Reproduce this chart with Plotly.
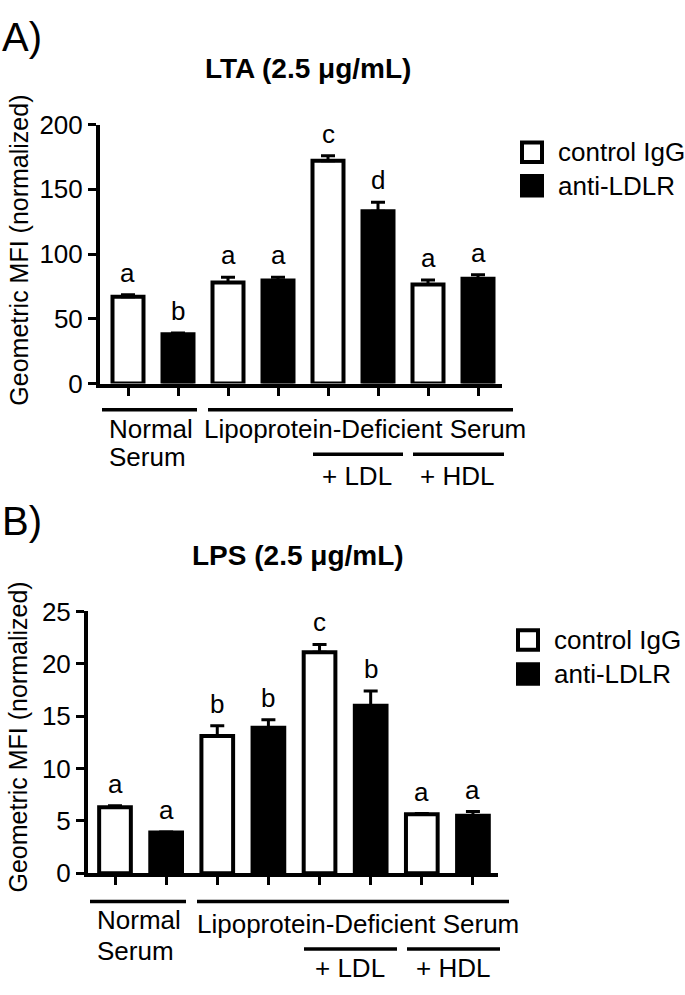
import plotly.graph_objects as go

W, H = 685, 995

# ---------------- data ----------------
groups = ["Normal Serum", "Lipoprotein-Deficient Serum", "+ LDL", "+ HDL"]
series_names = ["control IgG", "anti-LDLR"]

lta_control = [67, 78, 172, 76.5]
lta_control_err = [1.5, 4, 4, 3.5]
lta_anti = [38, 79.5, 133, 81]
lta_anti_err = [1, 2.5, 7, 3]
lta_control_letters = ["a", "a", "c", "a"]
lta_anti_letters = ["b", "a", "d", "a"]

lps_control = [6.3, 13.1, 21.1, 5.65]
lps_control_err = [0.15, 1.0, 0.75, 0.05]
lps_anti = [3.9, 13.9, 16.0, 5.5]
lps_anti_err = [0.05, 0.75, 1.4, 0.4]
lps_control_letters = ["a", "b", "c", "a"]
lps_anti_letters = ["a", "b", "b", "a"]

lta_ticks = [0, 50, 100, 150, 200]
lps_ticks = [0, 5, 10, 15, 20, 25]

FONT = "Liberation Sans, Arial, Helvetica, sans-serif"
FS = 26


def px(x):
    return x / W


def py(y):
    return 1 - y / H


fig = go.Figure()
annotations = []
shapes = []

panels = [
    dict(ax="", title="<b>LTA (2.5 μg/mL)</b>", label="A)",
         ctrl=lta_control, ctrl_err=lta_control_err, anti=lta_anti, anti_err=lta_anti_err,
         ctrl_let=lta_control_letters, anti_let=lta_anti_letters, ticks=lta_ticks,
         xdom=(100, 502), xrange=(-0.56, 7.48), ydom=(380, 113),
         title_xy=(308, 55), label_xy=(22, 23), ytitle_xy=(19, 243),
         legend_y=(141.5, 176), legend_x=520,
         line1=(102, 197, 407), line2=(208, 513, 407), ldl=(313, 403, 453), hdl=(413, 504, 453),
         normal_xy=(109, 427, 456), lpds_xy=(365, 427), ldl_xy=(357, 475), hdl_xy=(457, 475)),
    dict(ax="2", title="<b>LPS (2.5 μg/mL)</b>", label="B)",
         ctrl=lps_control, ctrl_err=lps_control_err, anti=lps_anti, anti_err=lps_anti_err,
         ctrl_let=lps_control_letters, anti_let=lps_anti_letters, ticks=lps_ticks,
         xdom=(88, 498), xrange=(-0.528, 7.49), ydom=(885, 615),
         title_xy=(298, 557), label_xy=(22, 522), ytitle_xy=(18, 745),
         legend_y=(644.5, 679.5), legend_x=516,
         line1=(90, 186, 914), line2=(197, 509, 914), ldl=(304, 397, 963), hdl=(407, 500, 963),
         normal_xy=(97, 933, 965), lpds_xy=(358, 937), ldl_xy=(350, 983), hdl_xy=(453, 983)),
]

for p in panels:
    xa = "x" + p["ax"]
    ya = "y" + p["ax"]
    n = len(groups)
    xs_ctrl = [2 * i for i in range(n)]
    xs_anti = [2 * i + 1 for i in range(n)]
    for xs, vals, errs, fill, name in [
        (xs_ctrl, p["ctrl"], p["ctrl_err"], "white", series_names[0]),
        (xs_anti, p["anti"], p["anti_err"], "black", series_names[1]),
    ]:
        fig.add_trace(go.Bar(
            x=xs, y=vals, width=0.62, name=name, showlegend=False,
            marker=dict(color=fill, line=dict(color="black", width=4)),
            error_y=dict(type="data", symmetric=False, array=errs, arrayminus=[0] * n,
                         color="black", thickness=3, width=7),
            xaxis=xa, yaxis=ya,
        ))
    # significance letters
    for xs, vals, errs, lets in [
        (xs_ctrl, p["ctrl"], p["ctrl_err"], p["ctrl_let"]),
        (xs_anti, p["anti"], p["anti_err"], p["anti_let"]),
    ]:
        for x, v, e, t in zip(xs, vals, errs, lets):
            annotations.append(dict(x=x, y=v + e, xref=xa, yref=ya, text=t, showarrow=False,
                                    xanchor="center", yanchor="middle", yshift=22,
                                    font=dict(size=FS, color="black", family=FONT)))
    # axes
    axis_common = dict(showline=True, linewidth=4, linecolor="black", ticks="outside",
                       ticklen=8, tickwidth=3, tickcolor="black", showgrid=False,
                       zeroline=False, fixedrange=True)
    fig.update_layout(**{
        "xaxis" + p["ax"]: dict(domain=[px(p["xdom"][0]), px(p["xdom"][1])], range=list(p["xrange"]),
                                tickvals=list(range(2 * n)), showticklabels=False, anchor=ya, **axis_common),
        "yaxis" + p["ax"]: dict(domain=[py(p["ydom"][0]), py(p["ydom"][1])],
                                range=[p["ticks"][0], p["ticks"][-1]], tickvals=p["ticks"],
                                tickfont=dict(size=FS, color="black", family=FONT), anchor=xa,
                                **axis_common),
    })
    # titles
    annotations.append(dict(x=px(p["title_xy"][0]), y=py(p["title_xy"][1]), xref="paper", yref="paper",
                            text=p["title"], showarrow=False, xanchor="center", yanchor="middle",
                            font=dict(size=28, color="black", family=FONT)))
    annotations.append(dict(x=px(p["label_xy"][0]), y=py(p["label_xy"][1]), xref="paper", yref="paper",
                            text=p["label"], showarrow=False, xanchor="center", yanchor="middle",
                            font=dict(size=40, color="black", family=FONT)))
    annotations.append(dict(x=px(p["ytitle_xy"][0]), y=py(p["ytitle_xy"][1]), xref="paper", yref="paper",
                            text="Geometric MFI (normalized)", textangle=-90, showarrow=False,
                            xanchor="center", yanchor="middle",
                            font=dict(size=25, color="black", family=FONT)))
    # legend (manual)
    lx = p["legend_x"]
    for (yc, fill, name) in [(p["legend_y"][0], "white", series_names[0]),
                             (p["legend_y"][1], "black", series_names[1])]:
        shapes.append(dict(type="rect", xref="paper", yref="paper",
                           x0=px(lx + 2), x1=px(lx + 22), y0=py(yc + 10), y1=py(yc - 10),
                           fillcolor=fill, line=dict(color="black", width=4)))
        annotations.append(dict(x=px(lx + 36), y=py(yc), xref="paper", yref="paper", text=name,
                                showarrow=False, xanchor="left", yanchor="middle",
                                font=dict(size=FS, color="black", family=FONT)))
    # group lines
    for (x0, x1, yy) in [p["line1"], p["line2"], p["ldl"], p["hdl"]]:
        shapes.append(dict(type="line", xref="paper", yref="paper", x0=px(x0), x1=px(x1),
                           y0=py(yy), y1=py(yy), line=dict(color="black", width=3.5)))
    nx, ny1, ny2 = p["normal_xy"]
    words = groups[0].split(" ")
    for w, yy in zip(words, [ny1, ny2]):
        annotations.append(dict(x=px(nx - 2), y=py(yy), xref="paper", yref="paper", text=w,
                                showarrow=False, xanchor="left", yanchor="middle",
                                font=dict(size=FS, color="black", family=FONT)))
    for txt, (cx, cy) in [(groups[1], p["lpds_xy"]), (groups[2], p["ldl_xy"]), (groups[3], p["hdl_xy"])]:
        annotations.append(dict(x=px(cx), y=py(cy), xref="paper", yref="paper", text=txt,
                                showarrow=False, xanchor="center", yanchor="middle",
                                font=dict(size=FS, color="black", family=FONT)))

fig.update_layout(
    width=W, height=H, autosize=False,
    margin=dict(l=0, r=0, t=0, b=0, pad=0),
    paper_bgcolor="white", plot_bgcolor="white",
    barmode="overlay", showlegend=False,
    font=dict(family=FONT, color="black", size=FS),
    annotations=annotations, shapes=shapes,
)

fig.write_html("out.html", config={"displayModeBar": False, "staticPlot": True},
               post_script="document.body.style.margin='0';document.body.style.overflow='hidden';")
